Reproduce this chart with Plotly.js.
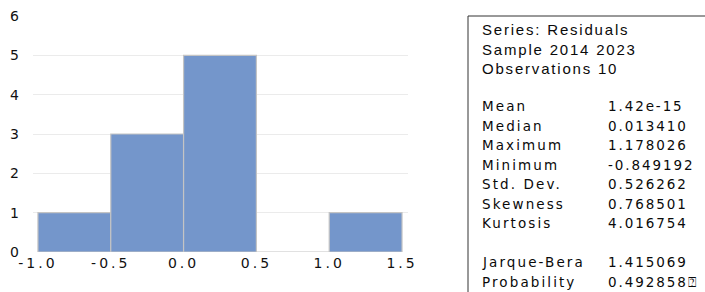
<!DOCTYPE html>
<html><head><meta charset="utf-8">
<script src="https://cdn.plot.ly/plotly-3.0.1.min.js"></script>
<style>
body{margin:0;padding:0;background:#fff;}
#chart{width:705px;height:292px;}
.xtick text,.ytick text{letter-spacing:3px;}
</style>
</head><body><div id="chart"></div>
<script>
// Histogram bins (bin centres) and counts
const binCenters = [-0.75, -0.25, 0.25, 0.75, 1.25];
const binCounts = [1, 3, 5, 0, 1];
const binWidth = 0.5;
const xTickVals = [-1.0, -0.5, 0.0, 0.5, 1.0, 1.5];
const xTickText = ["-1.0", "-0.5", "0.0", "0.5", "1.0", "1.5"];
const yTickVals = [0, 1, 2, 3, 4, 5, 6];

// Statistics table
const headerLines = ["Series: Residuals", "Sample 2014 2023", "Observations 10"];
const statLabels = ["Mean", "Median", "Maximum", "Minimum", "Std. Dev.", "Skewness", "Kurtosis"];
const statValues = ["1.42e-15", "0.013410", "1.178026", "-0.849192", "0.526262", "0.768501", "4.016754"];
const testLabels = ["Jarque-Bera", "Probability"];
const testValues = ["1.415069", "0.492858\u2370"];

const W = 705, H = 292;
const M = {l: 33, r: 297, t: 16, b: 40};
const pw = W - M.l - M.r, ph = H - M.t - M.b;
const px = p => (p - M.l) / pw;
const py = p => (H - M.b - p) / ph;

const annotations = [];
const spacing = [];
function addText(text, xp, yp, fontFam, size, ls) {
  annotations.push({
    text: text, xref: 'paper', yref: 'paper', x: px(xp), y: py(yp),
    xanchor: 'left', yanchor: 'middle', align: 'left', showarrow: false,
    font: {family: fontFam, size: size, color: '#0a0a0a'}
  });
  spacing.push(ls);
}
const headFont = '"Liberation Sans", Arial, sans-serif';
const bodyFont = '"DejaVu Sans", Verdana, sans-serif';
headerLines.forEach((t, i) => addText(t, 480, 30 + i * 19.3, headFont, 15, 1.8));
const statY0 = 106, dy = 19.5;
statLabels.forEach((t, i) => {
  addText(t, 480, statY0 + i * dy, bodyFont, 13.5, 2.1);
  addText(statValues[i], 606, statY0 + i * dy, bodyFont, 13.5, 1.9);
});
testLabels.forEach((t, i) => {
  addText(t, 480, 262 + i * dy, bodyFont, 13.5, 2.1);
  addText(testValues[i], 606, 262 + i * dy, bodyFont, 13.5, 1.9);
});

const trace = {
  type: 'bar', x: binCenters, y: binCounts, width: binWidth,
  marker: {color: '#7496cb', line: {color: '#c4c4c4', width: 1.2}},
  hoverinfo: 'skip'
};

const layout = {
  width: W, height: H,
  margin: M,
  paper_bgcolor: '#fff', plot_bgcolor: '#fff',
  showlegend: false,
  bargap: 0,
  xaxis: {
    range: [-1.034, 1.541], tickvals: xTickVals, ticktext: xTickText,
    showgrid: false, zeroline: false, showline: false, ticks: '',
    ticklabelstandoff: 1,
    tickfont: {family: bodyFont, size: 14, color: '#111'}
  },
  yaxis: {
    range: [0, 6], tickvals: yTickVals,
    showgrid: true, gridcolor: '#ebebeb', gridwidth: 1,
    zeroline: false, showline: false, ticks: '',
    ticklabelstandoff: 10,
    tickfont: {family: bodyFont, size: 14, color: '#111'}
  },
  shapes: [{
    type: 'rect', xref: 'paper', yref: 'paper',
    x0: px(468), x1: px(720), y0: py(300), y1: py(16),
    line: {color: '#333', width: 1}, fillcolor: 'rgba(0,0,0,0)'
  }],
  annotations: annotations
};

Plotly.newPlot('chart', [trace], layout, {displayModeBar: false, staticPlot: true}).then(() => {
  document.querySelectorAll('#chart .annotation').forEach((g, i) => {
    const t = g.querySelector('text');
    if (t && spacing[i] !== undefined) t.style.letterSpacing = spacing[i] + 'px';
  });
});
</script></body></html>
